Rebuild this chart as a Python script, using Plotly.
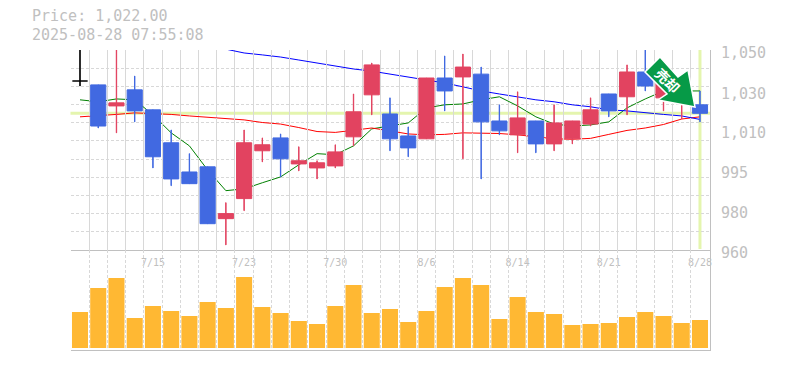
import plotly.graph_objects as go

W, H = 785, 370
dates = ["7/9","7/10","7/11","7/14","7/15","7/16","7/17","7/18","7/22","7/23","7/24","7/25","7/28","7/29","7/30",
         "7/31","8/1","8/4","8/5","8/6","8/7","8/8","8/12","8/13","8/14","8/15","8/18","8/19","8/20","8/21",
         "8/22","8/25","8/26","8/27","8/28"]
label_dates = ["7/15","7/23","7/30","8/6","8/14","8/21","8/28"]

opens = [1036.9,1035.1,1025.4,1032.8,1023.6,1008.6,995.5,997.8,974.9,983.7,1005.0,1010.8,999.1,997.3,998.2,
         1011.3,1030.5,1021.7,1011.7,1010.4,1038.3,1038.8,1040.1,1018.5,1012.2,1018.5,1008.1,1010.4,1017.1,1030.9,
         1029.6,1041.1,1029.1,1028.2,1025.9]
highs = [1053.0,1035.1,1053.0,1039.2,1023.6,1014.4,1003.7,997.8,981.9,1014.4,1010.8,1012.6,1006.8,1000.5,1007.7,
         1030.9,1045.3,1029.1,1015.8,1038.3,1048.6,1049.5,1043.4,1025.9,1031.9,1018.5,1025.9,1018.5,1029.1,1030.9,
         1044.4,1053.0,1039.7,1035.1,1032.3]
lows = [1034.6,1015.3,1013.1,1018.1,997.3,989.4,990.3,972.7,963.5,978.4,1000.0,993.3,996.0,992.4,997.3,
        1007.2,1021.3,1005.0,1002.3,1010.4,1023.1,1001.4,992.4,1012.2,1004.1,1004.1,1005.0,1008.1,1016.2,1020.4,
        1021.3,1032.3,1023.1,1019.4,1018.1]
closes = [1036.9,1016.2,1026.8,1023.1,1002.3,992.4,990.3,972.7,977.1,1008.6,1007.7,1001.4,1000.5,999.6,1004.5,
          1022.7,1044.4,1010.4,1006.3,1038.3,1032.3,1043.4,1018.1,1014.0,1019.9,1008.1,1017.6,1018.5,1023.6,1023.1,
          1041.1,1034.6,1036.4,1032.8,1022.0]
ma_green = [1028.2,1027.3,1028.6,1028.2,1021.3,1013.1,1007.2,996.4,987.2,988.0,990.7,993.3,998.7,1003.7,1003.2,
            1007.2,1014.9,1016.2,1017.6,1024.5,1025.9,1026.3,1028.2,1029.6,1025.4,1020.4,1017.1,1016.2,1016.7,1018.1,
            1024.5,1028.6,1032.3,1032.3,1032.3]
ma_red = [1020.4,1020.8,1021.5,1022.2,1022.0,1021.5,1020.8,1020.1,1019.4,1019.0,1017.8,1017.1,1015.5,1013.7,1013.3,
          1014.2,1015.3,1014.0,1012.6,1012.2,1012.4,1013.1,1013.1,1012.8,1012.2,1011.3,1010.4,1010.2,1010.6,1012.4,
          1014.2,1015.3,1016.9,1019.4,1020.4]
ma_blue = [None,None,None,None,None,None,None,None,1051.8,1050.0,1049.1,1048.1,1046.7,1045.3,1043.9,
           1042.5,1041.5,1040.1,1038.8,1037.4,1036.0,1034.2,1032.3,1030.9,1029.6,1028.2,1027.3,1025.9,1025.0,1023.6,
           1023.1,1022.2,1021.5,1020.8,1019.2]
volumes = [36,60,70,30,42,37,32,46,40,71,41,35,27,24,42,63,35,39,26,37,61,70,63,29,51,36,34,23,24,25,31,36,32,25,28]

price_now = 1022.0
price_ticks = [960, 977.4, 995, 1013, 1031, 1050]
price_labels = ["960", "980", "995", "1,010", "1,030", "1,050"]
grid_prices = [961.4,969.2,977.1,985.1,993.1,1001.3,1009.5,1017.7,1026.0,1034.4,1042.9,1051.3]
header = ["Price: 1,022.00", "2025-08-28 07:55:08"]

GRAY = "#c0c0c0"
GRID = "#d8d8d8"
BLUE = "#4169e1"
RED = "#e24360"
MONO = "DejaVu Sans Mono"
idx = list(range(len(dates)))
px = lambda v: v / W
py = lambda v: 1 - v / H

colors = ["#000000" if o == c else (RED if c > o else BLUE) for o, c in zip(opens, closes)]

fig = go.Figure()
for series, color in ((ma_green, "#008000"), (ma_red, "#ff0000"), (ma_blue, "#0000ff")):
    fig.add_trace(go.Scatter(x=idx, y=series, mode="lines", line=dict(color=color, width=1),
                             xaxis="x", yaxis="y", showlegend=False, connectgaps=False))
fig.add_trace(go.Bar(x=idx, base=lows, y=[h - l for h, l in zip(highs, lows)], width=0.02,
                     marker=dict(color=colors, line=dict(color=colors, width=1)),
                     xaxis="x", yaxis="y4", showlegend=False))
fig.add_trace(go.Bar(x=idx, base=[min(o, c) for o, c in zip(opens, closes)],
                     y=[abs(o - c) for o, c in zip(opens, closes)], width=0.83,
                     marker=dict(color=colors, line=dict(color=colors, width=1)),
                     xaxis="x", yaxis="y4", showlegend=False))
fig.add_trace(go.Bar(x=idx, y=volumes, marker=dict(color="#ffb833", line=dict(width=0)), width=0.88,
                     xaxis="x2", yaxis="y2", showlegend=False))
fig.add_trace(go.Scatter(x=[idx[-1]], y=[price_now], mode="none", xaxis="x", yaxis="y3", showlegend=False))

xr = [-0.521, 34.55]
xdom = [px(70.5), px(710)]
minor = dict(tick0=-0.5, dtick=1, showgrid=True, gridcolor=GRID, griddash="3px,2px", gridwidth=1, ticks="")
common_x = dict(range=xr, domain=xdom, type="linear", showgrid=False, zeroline=False, minor=minor,
                showline=True, linecolor=GRAY, linewidth=1, ticks="")
tick_idx = [dates.index(d) for d in label_dates]
pr = [2.98286, 3.02177]  # log10 of the price window shown in the upper panel
fig.update_layout(
    width=W, height=H, margin=dict(l=0, r=0, t=0, b=0, autoexpand=False),
    paper_bgcolor="white", plot_bgcolor="rgba(0,0,0,0)", showlegend=False, barmode="overlay", hovermode=False,
    xaxis=dict(common_x, anchor="y", tickmode="array", tickvals=tick_idx, ticktext=label_dates,
               tickfont=dict(family=MONO, size=10, color=GRAY), ticklabelstandoff=3),
    xaxis2=dict(common_x, anchor="y2", showticklabels=False, tickmode="array", tickvals=tick_idx),
    yaxis=dict(type="log", range=pr, domain=[py(250), py(50)], tickmode="array", tickvals=grid_prices,
               showticklabels=False, showgrid=True, gridcolor=GRID, griddash="3px,2px", gridwidth=1,
               zeroline=False, side="right", showline=True, linecolor=GRAY, linewidth=1, ticks=""),
    yaxis2=dict(range=[-2, 98], domain=[py(350), py(250)], showticklabels=False, showgrid=False,
                zeroline=False, side="right", showline=True, linecolor=GRAY, linewidth=1, ticks=""),
    yaxis3=dict(type="log", range=[2.98227, 3.02119], domain=[py(253), py(53)], anchor="free", position=px(710),
                side="right", tickmode="array", tickvals=price_ticks, ticktext=price_labels,
                tickfont=dict(family=MONO, size=15, color=GRAY), showgrid=False, zeroline=False,
                showline=False, ticks="", ticklabelstandoff=10),
    yaxis4=dict(type="log", range=pr, overlaying="y", showticklabels=False, showgrid=False, zeroline=False,
                showline=False, ticks="", side="right"),
    font=dict(family=MONO, color=GRAY),
)
hl = "#e4f5ae"
fig.add_shape(type="line", xref="paper", x0=xdom[0], x1=xdom[1], yref="y", y0=price_now, y1=price_now,
              line=dict(color=hl, width=3), layer="below")
fig.add_shape(type="line", xref="x", x0=idx[-1], x1=idx[-1], yref="paper", y0=py(249), y1=py(50),
              line=dict(color=hl, width=3), layer="below")
pts = [(660, 57), (645, 72), (667, 94), (658, 100), (695, 107), (688, 70), (678, 77)]
path = "M " + " L ".join(f"{px(a):.5f},{py(b):.5f}" for a, b in pts) + " Z"
fig.add_shape(type="path", path=path, xref="paper", yref="paper", fillcolor="#069a47",
              line=dict(color="white", width=1.5), layer="above")
fig.add_annotation(xref="paper", yref="paper", x=px(667.5), y=py(80), text="<b>売却</b>", textangle=45,
                   showarrow=False, font=dict(family="Noto Sans CJK JP", size=14, color="white"),
                   xanchor="center", yanchor="middle")
for text, yy in zip(header, (16.5, 34.5)):
    fig.add_annotation(xref="paper", yref="paper", x=px(30), y=py(yy), text=text, showarrow=False,
                       xanchor="left", yanchor="middle", font=dict(family=MONO, size=15, color=GRAY))

fig.write_html("out.html", config=dict(displayModeBar=False),
               post_script="document.body.style.margin='0';document.body.style.overflow='hidden';")
